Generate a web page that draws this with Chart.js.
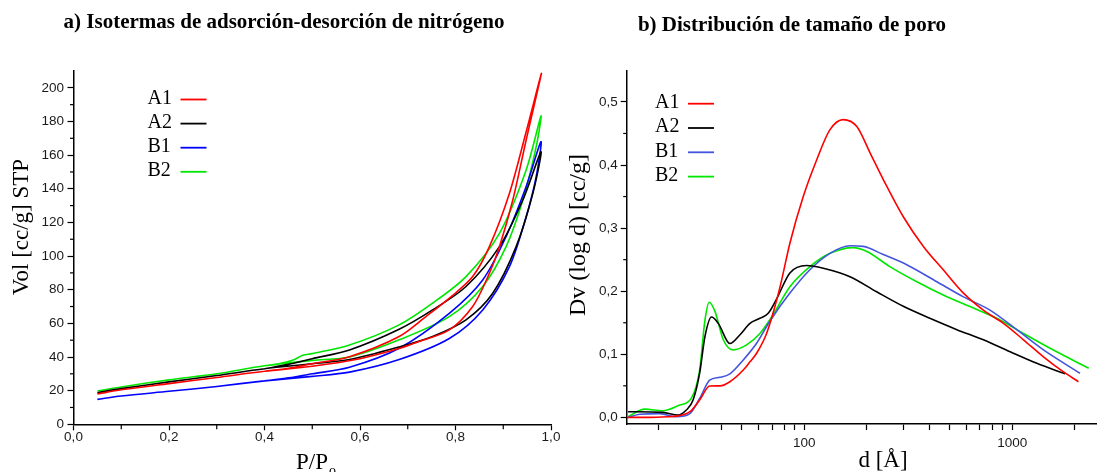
<!DOCTYPE html>
<html>
<head>
<meta charset="utf-8">
<script src="https://cdn.jsdelivr.net/npm/chart.js@4.4.1/dist/chart.umd.min.js"></script>
<style>
  html, body { margin: 0; padding: 0; background: #fff; overflow: hidden; }
  #left { position: absolute; left: 0; top: 0; width: 560px; height: 472px; }
  #right { position: absolute; left: 560px; top: 0; width: 537px; height: 472px; }
</style>
</head>
<body>
<div id="left"><canvas id="isoChart"></canvas></div>
<div id="right"><canvas id="poreChart"></canvas></div>
<script>
const seriesNames = ['A1', 'A2', 'B1', 'B2'];

// a) isotherms: adsorption branch up to the top, then desorption branch back down
const a1P   = [0.05, 0.1, 0.2, 0.3, 0.4, 0.5, 0.6, 0.682, 0.717, 0.787, 0.836, 0.868, 0.892, 0.92, 0.948, 0.98, 0.948, 0.913, 0.871, 0.836, 0.791, 0.738, 0.682, 0.578, 0.5, 0.45, 0.4];
const a1Vol = [18.0, 20.5, 24.2, 27.8, 31.5, 34.5, 39.0, 45.0, 48.5, 56.1, 70.0, 87.8, 105.6, 133.3, 169.0, 208.6, 173.9, 137.3, 105.6, 87.8, 75.9, 64.0, 52.2, 40.2, 36.0, 33.3, 31.5];
const a2P   = [0.05, 0.1, 0.2, 0.3, 0.4, 0.5, 0.578, 0.682, 0.752, 0.822, 0.878, 0.927, 0.962, 0.979, 0.941, 0.892, 0.822, 0.752, 0.682, 0.578, 0.5, 0.45, 0.4];
const a2Vol = [18.8, 21.2, 25.2, 29.0, 33.0, 36.0, 38.5, 46.0, 52.2, 62.1, 77.9, 105.6, 137.3, 162.0, 133.3, 105.6, 81.9, 68.0, 56.5, 44.2, 39.0, 35.6, 33.0];
const b1P   = [0.05, 0.1, 0.2, 0.3, 0.4, 0.5, 0.578, 0.682, 0.787, 0.857, 0.913, 0.948, 0.969, 0.979, 0.948, 0.906, 0.857, 0.787, 0.682, 0.578, 0.5, 0.45, 0.4];
const b1Vol = [14.8, 16.8, 19.6, 22.5, 25.8, 28.5, 31.0, 38.5, 51.0, 68.0, 93.7, 123.4, 147.2, 168.0, 141.3, 111.6, 85.8, 66.0, 45.2, 33.9, 30.0, 27.6, 25.8];
const b2P   = [0.05, 0.1, 0.2, 0.3, 0.4, 0.5, 0.578, 0.682, 0.787, 0.857, 0.906, 0.941, 0.969, 0.979, 0.948, 0.892, 0.822, 0.752, 0.682, 0.578, 0.5, 0.48, 0.46, 0.43, 0.4];
const b2Vol = [19.8, 22.2, 26.4, 30.0, 34.8, 38.0, 40.0, 50.2, 64.0, 81.9, 105.6, 133.3, 165.0, 183.2, 151.2, 113.5, 87.8, 72.0, 59.1, 47.1, 42.0, 41.0, 38.2, 35.9, 34.8];

// b) pore size distribution
const a1D  = [14, 18, 22, 24.3, 28.2, 31.4, 35.1, 39.3, 43.9, 50.9, 54.8, 59, 65.9, 73.7, 77.9, 85.3, 98.9, 114.7, 133, 154, 179, 207.5, 240, 299.5, 374, 466, 583, 727, 908, 1133, 1414, 1765, 2083];
const a1Dv = [0, 0, 0.001, 0.002, 0.009, 0.0275, 0.0497, 0.05, 0.0565, 0.075, 0.088, 0.1016, 0.133, 0.186, 0.218, 0.276, 0.35, 0.408, 0.456, 0.472, 0.461, 0.419, 0.377, 0.318, 0.271, 0.234, 0.197, 0.17, 0.149, 0.123, 0.096, 0.072, 0.0565];
const a2D  = [14.2, 20.9, 24.7, 27.1, 29.2, 31.4, 33.3, 35.8, 38.6, 43.9, 49.1, 54.8, 61.2, 67.1, 73.7, 85.3, 102.7, 123.5, 166, 223, 299.5, 402, 542, 727, 978, 1314, 1800];
const a2Dv = [0.009, 0.008, 0.0037, 0.0116, 0.0275, 0.07, 0.128, 0.159, 0.149, 0.117, 0.131, 0.149, 0.157, 0.165, 0.188, 0.229, 0.2407, 0.2365, 0.223, 0.199, 0.176, 0.157, 0.139, 0.123, 0.104, 0.0857, 0.069];
const b1D  = [14.2, 16.2, 20.2, 24.3, 28.2, 31.4, 35.1, 39.3, 43.9, 50.9, 59, 68.2, 85.3, 106.5, 133, 166, 192, 240, 311, 434, 583, 782, 1056, 1414, 2117];
const b1Dv = [0, 0.005, 0.006, 0.001, 0.006, 0.03, 0.059, 0.0635, 0.069, 0.091, 0.1175, 0.152, 0.197, 0.234, 0.26, 0.272, 0.271, 0.258, 0.242, 0.215, 0.191, 0.17, 0.1386, 0.107, 0.07];
const b2D  = [14.2, 17.1, 20.9, 25.2, 28.6, 31.4, 33.3, 34.9, 37.2, 40.8, 45.5, 52.8, 61.2, 70, 85.3, 106.5, 133, 172, 200, 258, 348, 466, 627, 843, 1133, 1522, 2335];
const b2Dv = [0.001, 0.013, 0.0105, 0.0195, 0.03, 0.075, 0.154, 0.1825, 0.168, 0.123, 0.107, 0.115, 0.133, 0.16, 0.207, 0.239, 0.26, 0.269, 0.263, 0.239, 0.215, 0.194, 0.1756, 0.157, 0.133, 0.1095, 0.0778];

// ticks
const isoXTicks = [0, 0.2, 0.4, 0.6, 0.8, 1.0];
const isoXMinor = [0.1, 0.3, 0.5, 0.7, 0.9];
const isoYTicks = [0, 20, 40, 60, 80, 100, 120, 140, 160, 180, 200];
const isoYMinor = [10, 30, 50, 70, 90, 110, 130, 150, 170, 190];
const poreXTicks = [20, 30, 40, 50, 60, 70, 80, 90, 100, 200, 300, 400, 500, 600, 700, 800, 900, 1000, 2000];
const poreXLabeled = [100, 1000];
const poreYTicks = [0, 0.1, 0.2, 0.3, 0.4, 0.5];
const poreYMinor = [0.05, 0.15, 0.25, 0.35, 0.45];

const isoColors = ['#ff0000', '#000000', '#0000ff', '#00e600'];
const poreColors = ['#ff0000', '#000000', '#4455dd', '#00e600'];

Chart.defaults.font.family = '"Liberation Sans", Arial, sans-serif';
Chart.defaults.font.size = 13.5;
Chart.defaults.color = '#1a1a1a';

function pairs(xs, ys) {
    return xs.map((x, i) => ({x: x, y: ys[i]}));
}

function comma(v, digits) {
    return v.toFixed(digits).replace('.', ',');
}

// short ticks between the labelled ones
function minorTicks(list) {
    return {
        id: 'minorTicks',
        afterDraw(chart) {
            const ctx = chart.ctx;
            ctx.save();
            ctx.strokeStyle = '#000';
            ctx.lineWidth = 1.2;
            list.forEach(m => {
                const scale = chart.scales[m.axis];
                m.values.forEach(v => {
                    const p = scale.getPixelForValue(v);
                    ctx.beginPath();
                    if (scale.isHorizontal()) {
                        ctx.moveTo(p, scale.top);
                        ctx.lineTo(p, scale.top + m.len);
                    } else {
                        ctx.moveTo(scale.right, p);
                        ctx.lineTo(scale.right - m.len, p);
                    }
                    ctx.stroke();
                });
            });
            ctx.restore();
        }
    };
}

// titles and a legend with the label before the line sample
function texts(o) {
    return {
        id: 'texts',
        afterDraw(chart) {
            const ctx = chart.ctx;
            ctx.save();
            ctx.fillStyle = '#000';
            ctx.textAlign = 'center';
            ctx.textBaseline = 'alphabetic';
            ctx.font = 'bold 21px "Liberation Serif"';
            ctx.fillText(o.title, o.titleX, o.titleY);

            ctx.font = '23px "Liberation Serif"';
            ctx.fillText(o.xTitle, o.xTitleX, o.xTitleY);
            if (o.xSub) {
                const w = ctx.measureText(o.xTitle).width;
                ctx.font = '14px "Liberation Serif"';
                ctx.textAlign = 'left';
                ctx.fillText(o.xSub, o.xTitleX + w / 2 + 1, o.xTitleY + 6);
            }

            ctx.save();
            ctx.font = o.yFont;
            ctx.textAlign = 'center';
            ctx.textBaseline = 'middle';
            ctx.translate(o.yTitleX, o.yTitleY);
            ctx.rotate(-Math.PI / 2);
            ctx.fillText(o.yTitle, 0, 0);
            ctx.restore();

            ctx.font = '20px "Liberation Serif"';
            ctx.textAlign = 'left';
            ctx.textBaseline = 'middle';
            chart.data.datasets.forEach((ds, i) => {
                const y = o.legendY + i * o.legendGap;
                ctx.fillText(ds.label, o.legendX, y);
                ctx.strokeStyle = ds.borderColor;
                ctx.lineWidth = 1.8;
                ctx.beginPath();
                ctx.moveTo(o.legendX + 33, y + 1);
                ctx.lineTo(o.legendX + 59, y + 1);
                ctx.stroke();
            });
            ctx.restore();
        }
    };
}

const axisBorder = {color: '#000', width: 1.5};
const axisGrid = {drawOnChartArea: false, tickLength: 6, tickColor: '#000', tickWidth: 1.2};

const isoData = [pairs(a1P, a1Vol), pairs(a2P, a2Vol), pairs(b1P, b1Vol), pairs(b2P, b2Vol)];

new Chart(document.getElementById('isoChart'), {
    type: 'line',
    data: {
        datasets: seriesNames.map((name, i) => ({
            label: name,
            data: isoData[i],
            borderColor: isoColors[i],
            borderWidth: 1.6,
            pointRadius: 0,
            tension: 0.3,
            fill: false
        }))
    },
    options: {
        responsive: true,
        maintainAspectRatio: false,
        animation: false,
        layout: {padding: {left: 0, right: 9, top: 71, bottom: 0}},
        plugins: {legend: {display: false}, tooltip: {enabled: false}},
        scales: {
            x: {
                type: 'linear', min: 0, max: 1,
                afterBuildTicks: s => { s.ticks = isoXTicks.map(v => ({value: v})); },
                afterFit: s => { s.height = 47.7; },
                border: axisBorder, grid: axisGrid,
                ticks: {padding: -1, autoSkip: false, maxRotation: 0, callback: v => comma(v, 1)}
            },
            y: {
                min: 0, max: 210,
                afterBuildTicks: s => { s.ticks = isoYTicks.map(v => ({value: v})); },
                afterFit: s => { s.width = 73.5; },
                border: axisBorder, grid: axisGrid,
                ticks: {padding: 3.5, autoSkip: false, callback: v => String(v)}
            }
        }
    },
    plugins: [
        minorTicks([{axis: 'x', values: isoXMinor, len: 5}, {axis: 'y', values: isoYMinor, len: 3.5}]),
        texts({
            title: 'a) Isotermas de adsorción-desorción de nitrógeno', titleX: 284, titleY: 28,
            xTitle: 'P/P', xSub: 'o', xTitleX: 312, xTitleY: 469,
            yTitle: 'Vol [cc/g] STP', yFont: '23px "Liberation Serif"', yTitleX: 22, yTitleY: 227,
            legendX: 147.5, legendY: 98.5, legendGap: 24.1
        })
    ]
});

const poreData = [pairs(a1D, a1Dv), pairs(a2D, a2Dv), pairs(b1D, b1Dv), pairs(b2D, b2Dv)];

new Chart(document.getElementById('poreChart'), {
    type: 'line',
    data: {
        datasets: seriesNames.map((name, i) => ({
            label: name,
            data: poreData[i],
            borderColor: poreColors[i],
            borderWidth: 1.6,
            pointRadius: 0,
            cubicInterpolationMode: 'monotone',
            fill: false
        }))
    },
    options: {
        responsive: true,
        maintainAspectRatio: false,
        animation: false,
        layout: {padding: {left: 0, right: 1, top: 71, bottom: 0}},
        plugins: {legend: {display: false}, tooltip: {enabled: false}},
        scales: {
            x: {
                type: 'logarithmic', min: 14, max: 2530,
                afterBuildTicks: s => { s.ticks = poreXTicks.map(v => ({value: v})); },
                afterFit: s => { s.height = 48; },
                border: axisBorder, grid: axisGrid,
                ticks: {padding: 5, autoSkip: false, maxRotation: 0,
                    callback: v => poreXLabeled.includes(v) ? String(v) : ''}
            },
            y: {
                min: -0.0105, max: 0.549,
                afterBuildTicks: s => { s.ticks = poreYTicks.map(v => ({value: v})); },
                afterFit: s => { s.width = 66.7; },
                border: axisBorder, grid: axisGrid,
                ticks: {padding: 3, autoSkip: false, callback: v => comma(v, 1)}
            }
        }
    },
    plugins: [
        minorTicks([{axis: 'y', values: poreYMinor, len: 3.5}]),
        texts({
            title: 'b) Distribución de tamaño de poro', titleX: 232, titleY: 31,
            xTitle: 'd [Å]', xTitleX: 323, xTitleY: 467,
            yTitle: 'Dv (log d) [cc/g]', yFont: '24px "Liberation Serif"', yTitleX: 19, yTitleY: 235,
            legendX: 95, legendY: 102.7, legendGap: 24.3
        })
    ]
});
</script>
</body>
</html>
